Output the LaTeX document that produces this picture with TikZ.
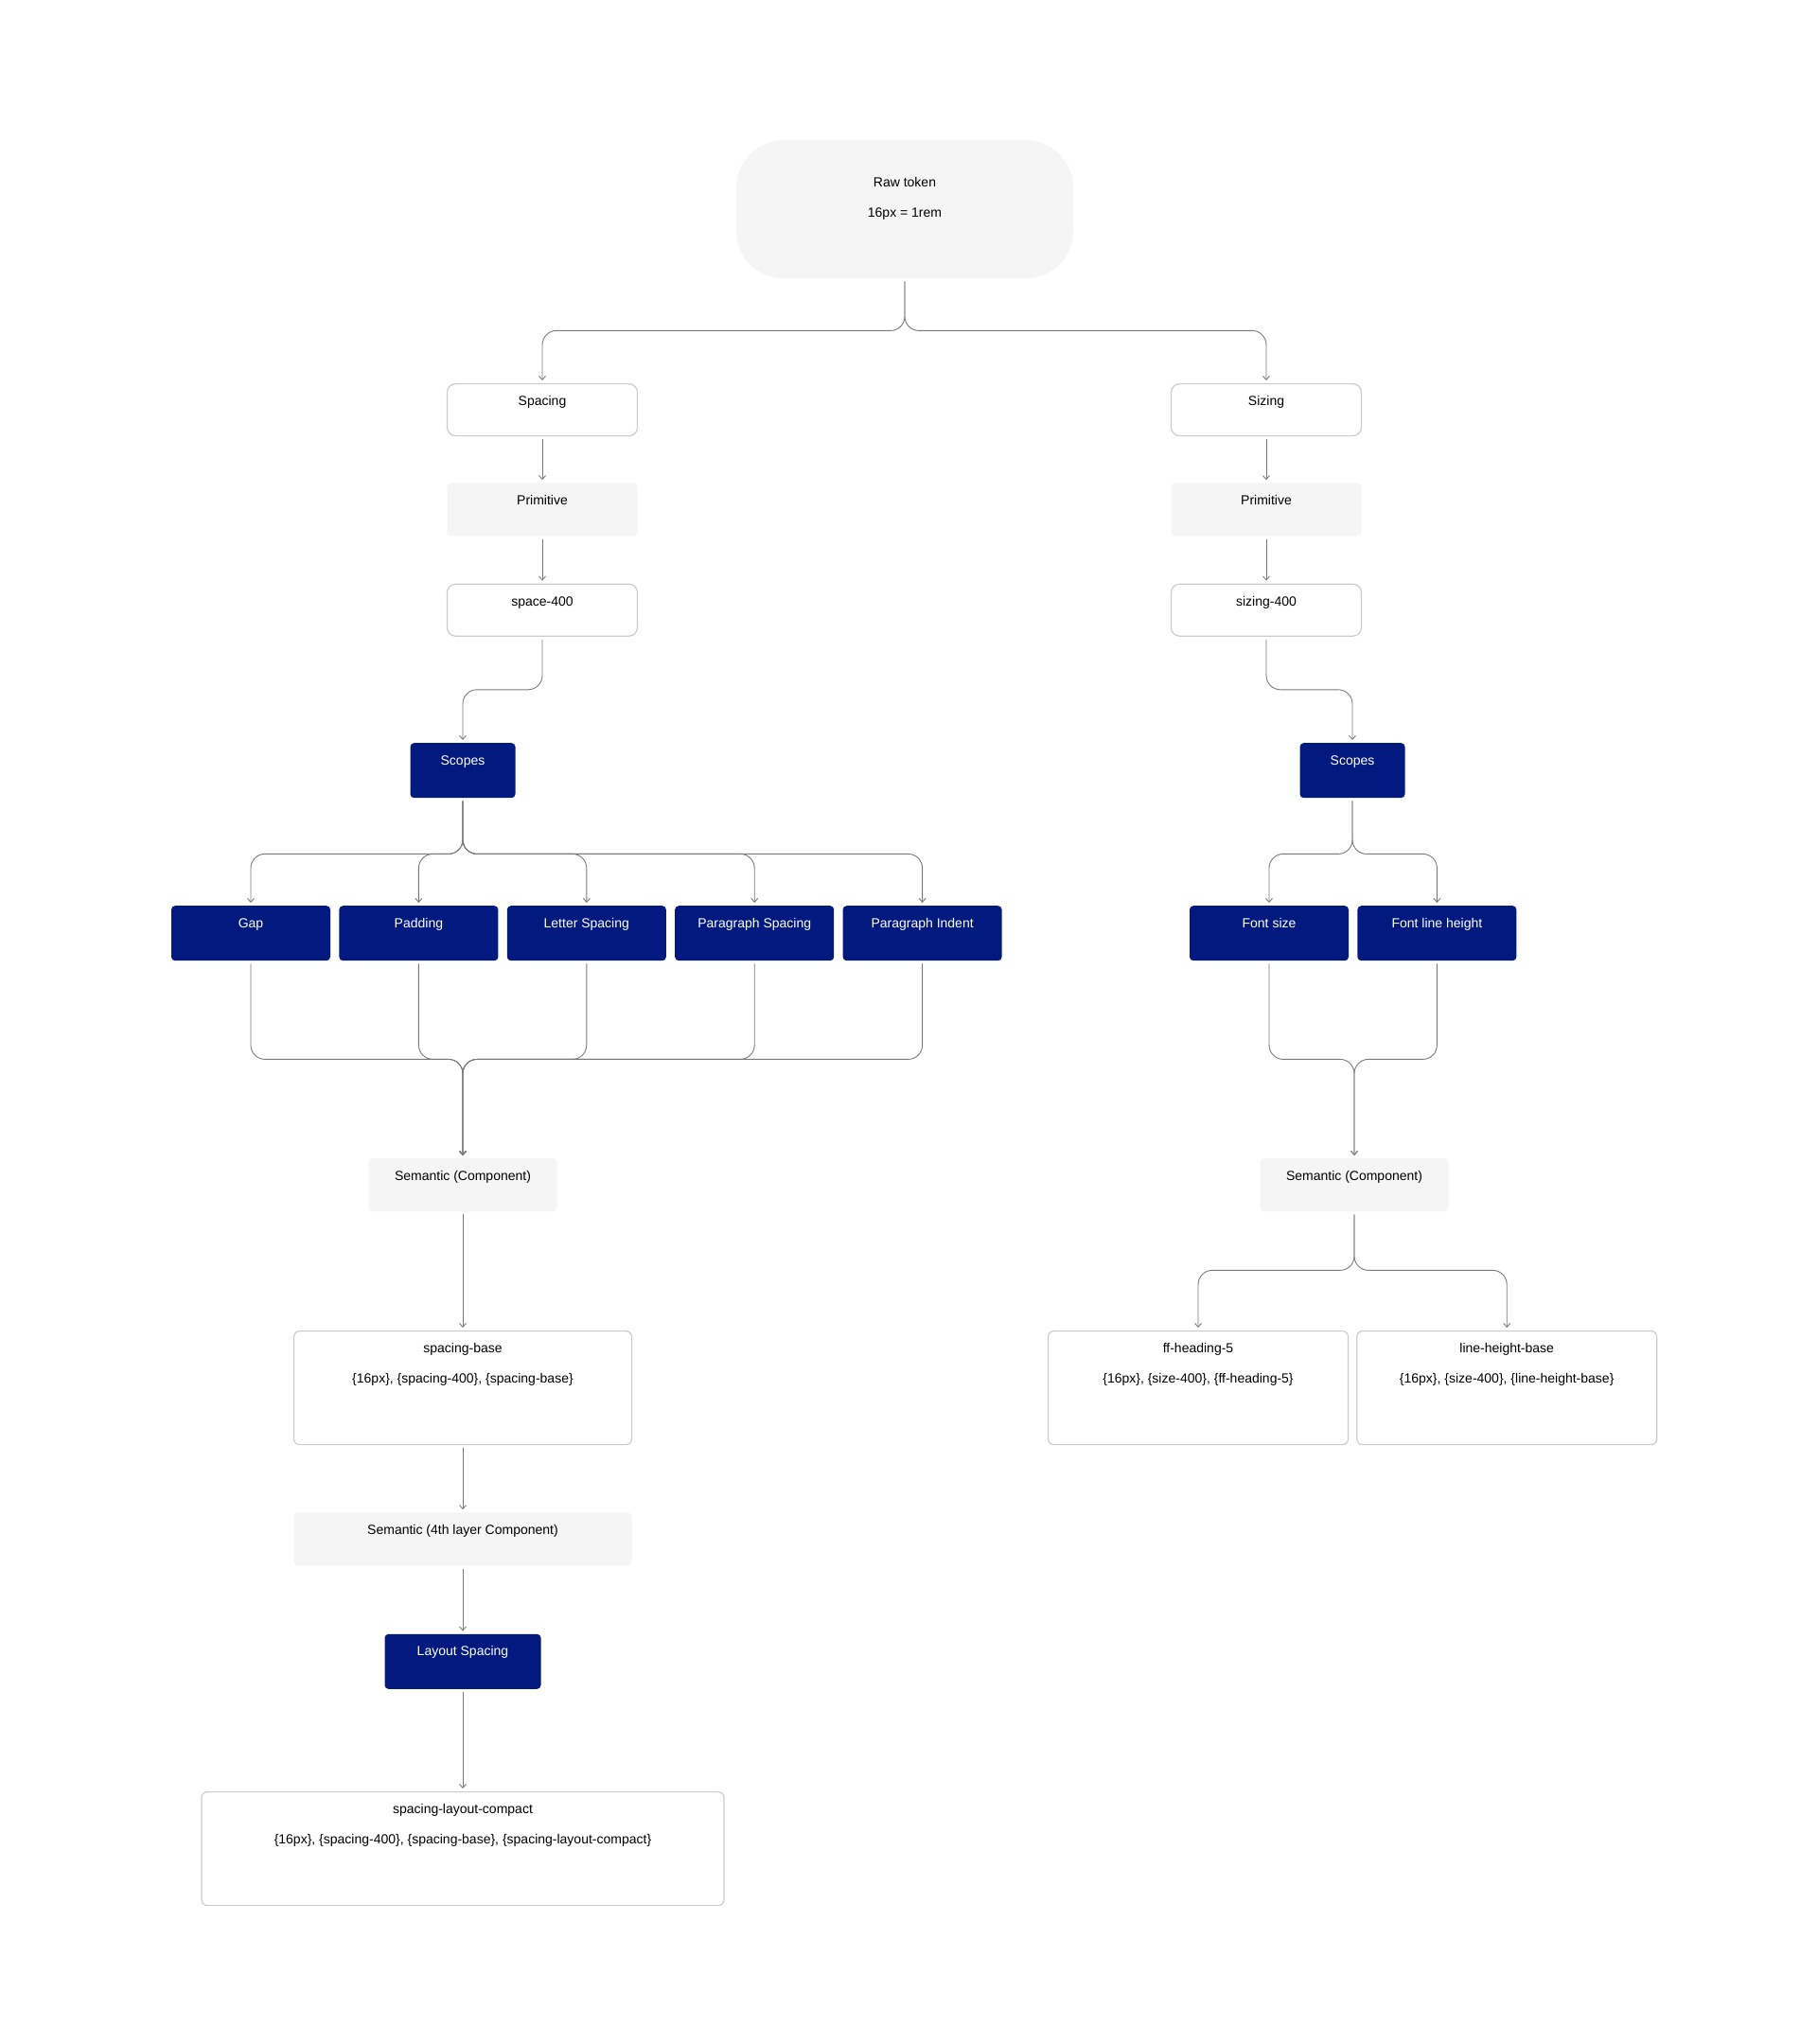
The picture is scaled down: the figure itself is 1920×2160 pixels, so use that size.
\documentclass[tikz,border=0pt]{standalone}
\usepackage{fontspec}
\setmainfont{Liberation Sans}
\usetikzlibrary{positioning,arrows.meta}
\definecolor{navy}{HTML}{021A7F}
\definecolor{panel}{HTML}{F5F5F5}
\definecolor{edge}{HTML}{CCCCCC}
\definecolor{wire}{HTML}{7A7A7A}
\begin{document}
\begin{tikzpicture}[
    x=1pt, y=-1pt,
    node distance=9pt and 9pt,
    every node/.style={font=\fontsize{14}{16}\selectfont, inner xsep=0pt, inner ysep=0pt, text height=23pt, anchor=north},
    outlined/.style={draw=edge, line width=1.2pt, rounded corners=9pt, fill=white, minimum width=201pt, text depth=32pt},
    greybox/.style={fill=panel, rounded corners=4pt, minimum width=#1, text depth=33pt},
    scope/.style={fill=navy, text=white, rounded corners=4pt, minimum width=#1, text depth=35pt},
    valuebox/.style={draw=edge, line width=1.2pt, rounded corners=6pt, minimum width=#1, text depth=101pt},
    wire/.style={draw=wire, line width=0.9pt, rounded corners=15pt, -{Straight Barb[length=4pt,width=7pt]}, shorten <=3pt, shorten >=3pt}
]
\useasboundingbox (0,0) rectangle (1920,2160);

% Raw token
\node[fill=panel, rounded corners=50pt, minimum width=356pt, text height=49pt, text depth=97pt] (raw) at (956,148)
  {\begin{tabular}[t]{@{}c@{}}Raw token\\[16pt]16px = 1rem\end{tabular}};

% Spacing branch
\node[outlined] (spacing) at (573,405) {Spacing};
\node[greybox=201pt, below=49pt of spacing] (primL) {Primitive};
\node[outlined, below=50pt of primL] (space) {space-400};
\node[scope=111pt] (scopesL) at (489,785) {Scopes};

% Sizing branch
\node[outlined] (sizing) at (1338,405) {Sizing};
\node[greybox=201pt, below=49pt of sizing] (primR) {Primitive};
\node[outlined, below=50pt of primR] (sizes) {sizing-400};
\node[scope=111pt] (scopesR) at (1429,785) {Scopes};

% Spacing scopes
\node[scope=168pt] (gap) at (265,957) {Gap};
\node[scope=168pt, right=of gap] (padding) {Padding};
\node[scope=168pt, right=of padding] (letter) {Letter Spacing};
\node[scope=168pt, right=of letter] (parspace) {Paragraph Spacing};
\node[scope=168pt, right=of parspace] (parindent) {Paragraph Indent};

% Sizing scopes
\node[scope=168pt] (fontsize) at (1341,957) {Font size};
\node[scope=168pt, right=of fontsize] (lineheight) {Font line height};

% Semantic layers
\node[greybox=199pt] (semL) at (489,1224) {Semantic (Component)};
\node[greybox=199pt] (semR) at (1431,1224) {Semantic (Component)};

\node[valuebox=357pt, text depth=97pt] (base) at (489,1406)
  {\begin{tabular}[t]{@{}c@{}}spacing-base\\[16pt]\{16px\}, \{spacing-400\}, \{spacing-base\}\end{tabular}};
\node[valuebox=317pt, text depth=97pt] (heading) at (1266,1406)
  {\begin{tabular}[t]{@{}c@{}}ff-heading-5\\[16pt]\{16px\}, \{size-400\}, \{ff-heading-5\}\end{tabular}};
\node[valuebox=317pt, text depth=97pt, right=8pt of heading] (lhbase)
  {\begin{tabular}[t]{@{}c@{}}line-height-base\\[16pt]\{16px\}, \{size-400\}, \{line-height-base\}\end{tabular}};

\node[greybox=357pt, below=71pt of base] (sem4) {Semantic (4th layer Component)};
\node[scope=165pt, below=72pt of sem4] (layout) {Layout Spacing};
\node[valuebox=552pt, text depth=97pt, below=108pt of layout] (compact)
  {\begin{tabular}[t]{@{}c@{}}spacing-layout-compact\\[16pt]\{16px\}, \{spacing-400\}, \{spacing-base\}, \{spacing-layout-compact\}\end{tabular}};

% Connectors
\draw[wire] (raw.south) -- ++(0,55) -| (spacing.north);
\draw[wire] (raw.south) -- ++(0,55) -| (sizing.north);
\draw[wire] (spacing) -- (primL);
\draw[wire] (primL) -- (space);
\draw[wire] (sizing) -- (primR);
\draw[wire] (primR) -- (sizes);
\draw[wire] (space.south) -- ++(0,56) -| (scopesL.north);
\draw[wire] (sizes.south) -- ++(0,56) -| (scopesR.north);
\foreach \t in {gap,padding,letter,parspace,parindent}{
  \draw[wire] (scopesL.south) -- ++(0,59) -| (\t.north);
  \draw[wire] (\t.south) -- ++(0,104) -| (semL.north);
}
\foreach \t in {fontsize,lineheight}{
  \draw[wire] (scopesR.south) -- ++(0,59) -| (\t.north);
  \draw[wire] (\t.south) -- ++(0,104) -| (semR.north);
}
\draw[wire] (semL) -- (base);
\draw[wire] (semR.south) -- ++(0,62) -| (heading.north);
\draw[wire] (semR.south) -- ++(0,62) -| (lhbase.north);
\draw[wire] (base) -- (sem4);
\draw[wire] (sem4) -- (layout);
\draw[wire] (layout) -- (compact);
\end{tikzpicture}
\end{document}
